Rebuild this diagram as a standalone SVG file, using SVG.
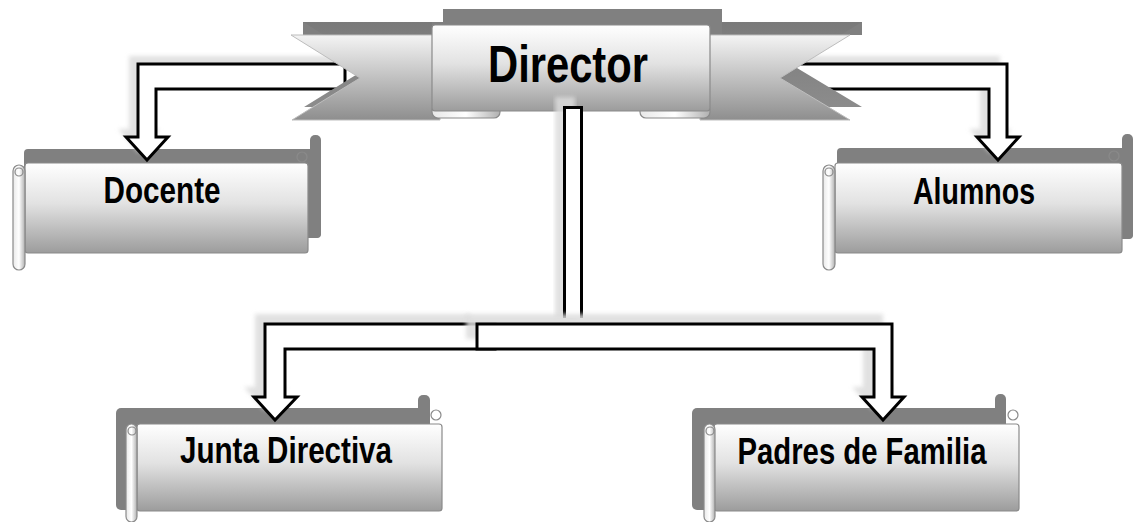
<svg xmlns="http://www.w3.org/2000/svg" width="1137" height="522" viewBox="0 0 1137 522">
<defs>
<linearGradient id="gBody" x1="0" y1="0" x2="0" y2="1">
<stop offset="0" stop-color="#ffffff"/>
<stop offset="0.45" stop-color="#e2e2e2"/>
<stop offset="1" stop-color="#9c9c9c"/>
</linearGradient>
<linearGradient id="gWing" x1="0" y1="0" x2="0" y2="1">
<stop offset="0" stop-color="#f4f4f4"/>
<stop offset="1" stop-color="#8e8e8e"/>
</linearGradient>
<linearGradient id="gWingShadow" x1="0" y1="0" x2="0" y2="1">
<stop offset="0" stop-color="#7a7a7a"/>
<stop offset="1" stop-color="#8c8c8c"/>
</linearGradient>
<linearGradient id="gRoll" x1="0" y1="0" x2="1" y2="0">
<stop offset="0" stop-color="#e8e8e8"/>
<stop offset="0.5" stop-color="#ffffff"/>
<stop offset="1" stop-color="#b0b0b0"/>
</linearGradient>
<filter id="soft" x="-10%" y="-10%" width="120%" height="120%">
<feGaussianBlur stdDeviation="2"/>
</filter>
</defs>
<style>
.dark{fill:#808080}
.wshadow{fill:url(#gWingShadow)}
.body{fill:url(#gBody);stroke:#8a8a8a;stroke-width:1.2}
.roll{fill:url(#gRoll);stroke:#8a8a8a;stroke-width:1.2}
.curl{fill:none;stroke:#8a8a8a;stroke-width:1.2}
.wing{fill:url(#gWing);stroke:#bdbdbd;stroke-width:1}
.arrow{fill:#ffffff;stroke:#000000;stroke-width:3;stroke-linejoin:miter}
.shadow{fill:#dcdcdc;opacity:0.85;filter:url(#soft)}
.lbl{font-family:"Liberation Sans",Arial,sans-serif;font-weight:bold;fill:#000;text-anchor:middle}
</style>

<g id="node-docente">
<rect x="24" y="149" width="297" height="89" rx="4" class="dark"/>
<rect x="310" y="135" width="11" height="103" rx="5" class="dark"/>
<rect x="25" y="163" width="283" height="90" rx="3" class="body"/>
<circle cx="302" cy="157" r="5" class="curl"/>
<rect x="13" y="165" width="12" height="105" rx="6" class="roll"/>
<circle cx="19" cy="172" r="4" class="curl"/>
<text class="lbl" x="162" y="203" font-size="36" textLength="117" lengthAdjust="spacingAndGlyphs">Docente</text>
</g>

<g id="node-alumnos">
<rect x="837" y="148" width="296" height="91" rx="4" class="dark"/>
<rect x="1122" y="134" width="11" height="105" rx="5" class="dark"/>
<rect x="835" y="163" width="287" height="90" rx="3" class="body"/>
<circle cx="1114" cy="156" r="5" class="curl"/>
<rect x="823" y="165" width="12" height="105" rx="6" class="roll"/>
<circle cx="829" cy="172" r="4" class="curl"/>
<text class="lbl" x="974" y="204" font-size="36" textLength="122" lengthAdjust="spacingAndGlyphs">Alumnos</text>
</g>

<g id="node-junta">
<rect x="116" y="408" width="314" height="102" rx="5" class="dark"/>
<rect x="418" y="395" width="12" height="28" rx="5" class="dark"/>
<rect x="137" y="424" width="305" height="87" rx="3" class="body"/>
<circle cx="436" cy="415" r="5" class="curl"/>
<rect x="126" y="424" width="11" height="98" rx="5.5" class="roll"/>
<circle cx="132" cy="431" r="4" class="curl"/>
<text class="lbl" x="286" y="463" font-size="36" textLength="212" lengthAdjust="spacingAndGlyphs">Junta Directiva</text>
</g>

<g id="node-padres">
<rect x="692" y="408" width="314" height="102" rx="5" class="dark"/>
<rect x="995" y="394" width="11" height="28" rx="5" class="dark"/>
<rect x="714" y="424" width="305" height="87" rx="3" class="body"/>
<circle cx="1013" cy="415" r="5" class="curl"/>
<rect x="704" y="424" width="11" height="98" rx="5.5" class="roll"/>
<circle cx="710" cy="431" r="4" class="curl"/>
<text class="lbl" x="862" y="464" font-size="36" textLength="249" lengthAdjust="spacingAndGlyphs">Padres de Familia</text>
</g>

<g id="connectors-top">
<g id="arrow-docente">
<polygon class="shadow" points="340,56 129,56 129,129 118,129 139,153 160,129 149,129 149,81 340,81"/>
<polygon class="arrow" points="345,64 138,64 138,137 126,137 147,160 168,137 156,137 156,89 345,89"/>
</g>
<g id="arrow-alumnos">
<polygon class="shadow" points="790,56 1000,56 1000,129 1012,129 990,153 969,129 980,129 980,81 790,81"/>
<polygon class="arrow" points="795,64 1007,64 1007,137 1019,137 998,160 977,137 989,137 989,89 795,89"/>
</g>
</g>

<g id="node-director">
<polygon class="dark" points="303,22 443,22 443,9 722,9 722,22 862,22 862,35 303,35"/>
<polygon class="wshadow" points="303,22 432,22 432,107 304,107 372,65"/>
<polygon class="wshadow" points="722,22 862,22 792,65 862,107 722,107"/>
<rect x="443" y="9" width="279" height="20" rx="4" class="dark"/>
<polygon class="wing" points="291,35 440,35 440,120 292,120 360,78"/>
<polygon class="wing" points="700,35 850,35 780,78 850,120 700,120"/>
<rect x="432" y="104" width="68" height="14" rx="6" class="roll"/>
<rect x="640" y="104" width="70" height="14" rx="6" class="roll"/>
<rect x="432" y="25" width="278" height="86" rx="3" class="body"/>
<text class="lbl" x="568" y="82" font-size="52" textLength="160" lengthAdjust="spacingAndGlyphs">Director</text>
</g>

<g id="connectors-bottom">
<g id="shaft">
<polygon class="shadow" points="555,318 555,97 575,97 575,318"/>
<path d="M564.5,318 V107.5 H581.5 V318" fill="#ffffff" stroke="#000" stroke-width="3"/>
</g>
<g id="arrow-junta">
<polygon class="shadow" points="470,314 255,314 255,387 244,387 265,411 287,387 275,387 275,339 470,339"/>
<polygon class="arrow" points="495,324 265,324 265,397 254,397 275,420 297,397 285,397 285,349 495,349"/>
</g>
<g id="arrow-padres">
<polygon class="shadow" points="466,314 883,314 883,387 894,387 873,410 852,387 863,387 863,339 466,339"/>
<polygon class="arrow" points="477,324 892,324 892,397 904,397 883,420 862,397 874,397 874,349 477,349"/>
</g>
</g>
</svg>
